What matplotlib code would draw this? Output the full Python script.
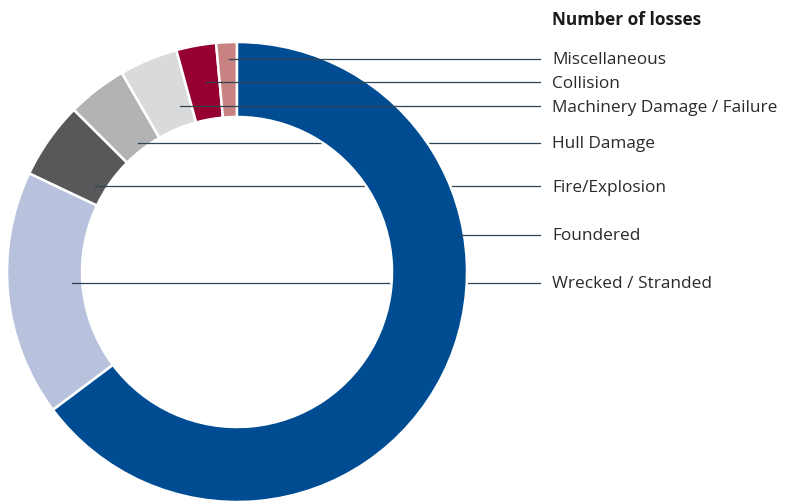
import matplotlib.pyplot as plt

categories = ["Foundered", "Wrecked / Stranded", "Fire/Explosion", "Hull Damage",
              "Machinery Damage / Failure", "Collision", "Miscellaneous"]
shares = [64.8, 17.3, 5.4, 4.2, 4.1, 2.8, 1.45]
colors = ["#004c93", "#b8c2dd", "#58585a", "#b2b3b5", "#d9dadb", "#960030", "#c98282"]

# label layout (pixel coords, y measured from top)
label_y = [235, 283, 186, 143, 106, 82, 59]
line_start_x = [460, 72, 95, 138, 180, 206, 229]
# leader lines drawn above the big blue wedge
on_top = {"Foundered", "Machinery Damage / Failure", "Collision", "Miscellaneous"}

W, H = 787, 504
plt.rcParams["font.family"] = ["Open Sans", "DejaVu Sans"]

fig = plt.figure(figsize=(W / 100, H / 100), dpi=100)
ax = fig.add_axes([0, 0, 1, 1])

cx, cy, r = 237, H - 272, 230
wedges, _ = ax.pie(shares, colors=colors, startangle=90, counterclock=False,
                   center=(cx, cy), radius=r,
                   wedgeprops=dict(width=75, edgecolor="white", linewidth=1.8))
for w in wedges:
    w.set_zorder(1)
wedges[0].set_zorder(3)

for name, ly, sx in zip(categories, label_y, line_start_x):
    y = H - ly
    ax.plot([sx, 540], [y, y], color="#2f4450", linewidth=0.9,
            zorder=4 if name in on_top else 2)
    ax.text(552, y - 1.5, name, ha="left", va="center", fontsize=12.4, color="#2a2a2a")

ax.text(552, H - 20, "Number of losses", ha="left", va="center",
        fontsize=12.4, fontweight="bold", color="#1a1a1a")

ax.set_xlim(0, W)
ax.set_ylim(0, H)
ax.set_aspect("auto")
ax.axis("off")

fig.savefig("out.png", dpi=100)
